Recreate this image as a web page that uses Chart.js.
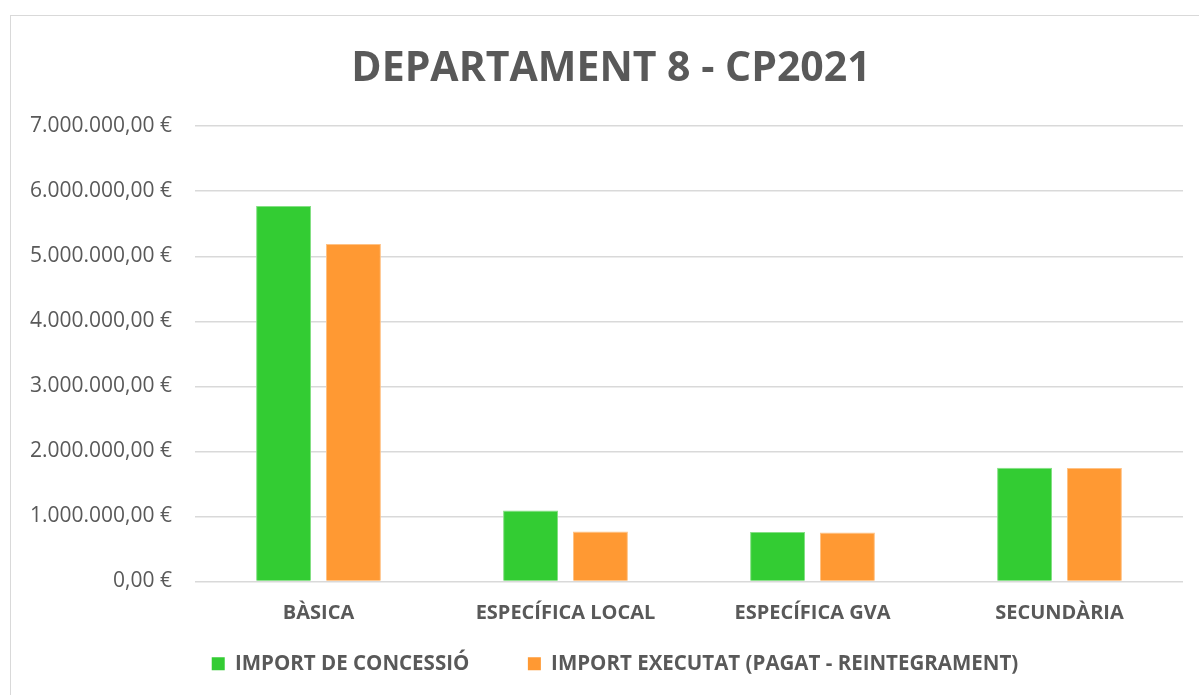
<!DOCTYPE html>
<html lang="ca">

<head>
    <meta charset="UTF-8">
    <script src="https://cdn.jsdelivr.net/npm/chart.js"></script>
    <title>Departament 8 - CP2021</title>
    <style>
        html, body { margin: 0; padding: 0; background: #fff; overflow: hidden; width: 1199px; height: 695px; }
        #box { position: absolute; left: 10px; top: 15px; width: 1204px; height: 700px; border: 1px solid #d9d9d9; }
    </style>
</head>

<body>
    <div id="box"><canvas id="chart"></canvas></div>
    <script>
        const categories = ['BÀSICA', 'ESPECÍFICA LOCAL', 'ESPECÍFICA GVA', 'SECUNDÀRIA']
        const concessio = [5775000, 1090000, 762000, 1747000]
        const executat = [5190000, 770000, 752000, 1745000]
        const yTicks = [0, 1000000, 2000000, 3000000, 4000000, 5000000, 6000000, 7000000]

        const grey = '#595959'

        // 7000000 -> "7.000.000,00 €"
        function euro(v) {
            let s = Math.round(v).toString().replace(/\B(?=(\d{3})+(?!\d))/g, '.')
            return s + ',00 €'
        }

        // title and legend sit a little right of the canvas centre in the original
        const shiftBoxes = {
            id: 'shift_boxes',
            afterLayout: (chart) => {
                chart.titleBlock.left += 14
                chart.legend.left += 11
                chart.legend.right += 11
            }
        }

        new Chart(document.getElementById('chart'), {
            type: 'bar',
            data: {
                labels: categories,
                datasets: [
                    { label: 'IMPORT DE CONCESSIÓ', data: concessio, backgroundColor: '#33cc33', borderColor: '#85e085', borderWidth: 1 },
                    { label: 'IMPORT EXECUTAT (PAGAT - REINTEGRAMENT)', data: executat, backgroundColor: '#ff9933', borderColor: '#ffc285', borderWidth: 1 }
                ]
            },
            plugins: [shiftBoxes],
            options: {
                responsive: true,
                maintainAspectRatio: false,
                animation: false,
                datasets: { bar: { categoryPercentage: 0.566, barPercentage: 0.786 } },
                layout: { padding: { left: 14, right: 32, top: 29, bottom: 32 } },
                plugins: {
                    title: {
                        display: true,
                        text: 'DEPARTAMENT 8 - CP2021',
                        color: grey,
                        font: { family: 'Open Sans', size: 41, weight: 'bold' },
                        padding: { top: 0, bottom: 32 }
                    },
                    legend: {
                        position: 'bottom',
                        labels: {
                            color: grey,
                            boxWidth: 13,
                            boxHeight: 13,
                            padding: 16,
                            font: { family: 'Open Sans', size: 20.5, weight: 'bold' },
                            // wider gap between the two entries than the vertical padding
                            generateLabels: (chart) => {
                                let items = Chart.defaults.plugins.legend.labels.generateLabels(chart)
                                items[0].text += '\u00a0'.repeat(8)
                                items.forEach(it => { it.lineWidth = 0; it.fontColor = grey })
                                return items
                            }
                        }
                    },
                    tooltip: { enabled: false }
                },
                scales: {
                    x: {
                        grid: { display: false },
                        border: { display: false },
                        ticks: { color: grey, padding: 12, font: { family: 'Open Sans', size: 20, weight: 'bold' } }
                    },
                    y: {
                        min: 0,
                        max: 7000000,
                        afterBuildTicks: (axis) => { axis.ticks = yTicks.map(v => ({ value: v })) },
                        afterFit: (axis) => { axis.width = 170 },
                        grid: { color: '#d9d9d9', lineWidth: 1.5, drawTicks: false },
                        border: { display: false },
                        ticks: { color: grey, padding: 23, callback: (v) => euro(v), font: { family: 'Open Sans', size: 21 } }
                    }
                }
            }
        })
    </script>
</body>

</html>
